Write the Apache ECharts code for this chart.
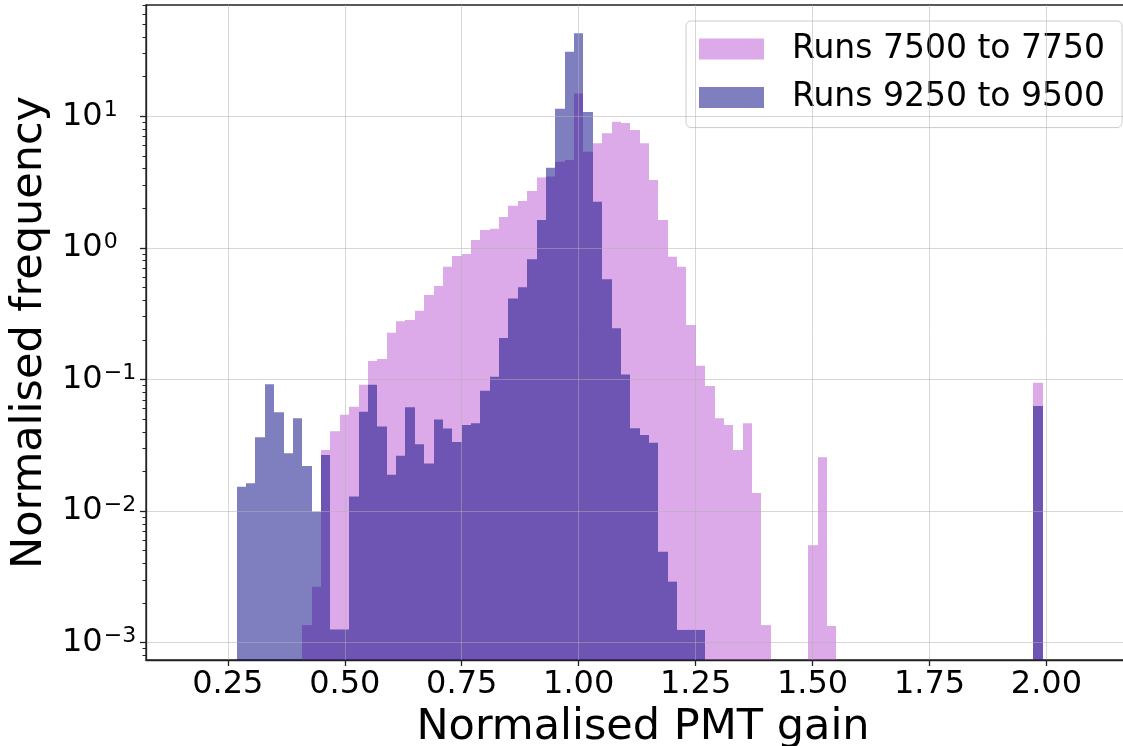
<!DOCTYPE html>
<html><head><meta charset="utf-8">
<script src="https://cdn.jsdelivr.net/npm/echarts@6/dist/echarts.min.js"></script>
<style>html,body{margin:0;padding:0;background:#fff}#chart{width:1123px;height:746px}</style>
</head><body><div id="chart"></div>
<script>
// Histogram bin definition (shared by both series)
const binStart = 0.269;
const binWidth = 0.02003;

const seriesNames = ['Runs 7500 to 7750', 'Runs 9250 to 9500'];

// Normalised frequency per bin (null = empty bin)
const runs7500 = [
  null, null, null, null, null, null, null, 0.00136, 0.00266, 0.0291,
  0.0405, 0.0540, 0.0621, 0.0912, 0.138, 0.143, 0.227, 0.277, 0.283, 0.333,
  0.438, 0.513, 0.719, 0.867, 0.899, 1.15, 1.37, 1.40, 1.72, 2.09,
  2.27, 2.70, 3.42, 3.48, 4.52, 4.66, 14.9, 5.38, 6.23, 7.43,
  9.1, 8.9, 7.87, 6.23, 3.28, 1.63, 0.857, 0.719, 0.259, 0.127,
  0.0893, 0.0507, 0.0451, 0.0291, 0.0464, 0.0137, 0.00136, null, null, null,
  null, 0.0055, 0.0257, 0.00134, null, null, null, null, null, null,
  null, null, null, null, null, null, null, null, null, null,
  null, null, null, null, null, 0.0946
];
const runs9250 = [
  0.0153, 0.0163, 0.0364, 0.0919, 0.0563, 0.0275, 0.0507, 0.0220, 0.0099, 0.0267,
  0.00126, 0.00126, 0.0129, 0.0569, 0.0912, 0.0440, 0.0189, 0.0263, 0.0614, 0.0322,
  0.0230, 0.0496, 0.0425, 0.0335, 0.0450, 0.0464, 0.0822, 0.105, 0.207, 0.412,
  0.502, 0.82, 1.63, 4.07, 11.4, 31.0, 42.7, 10.8, 2.24, 0.577,
  0.245, 0.109, 0.0426, 0.0379, 0.0331, 0.00491, 0.00291, 0.00125, 0.00125, 0.00125,
  null, null, null, null, null, null, null, null, null, null,
  null, null, null, null, null, null, null, null, null, null,
  null, null, null, null, null, null, null, null, null, null,
  null, null, null, null, null, 0.0629
];

const xTickValues = [0.25, 0.50, 0.75, 1.00, 1.25, 1.50, 1.75, 2.00];
const yTickValues = [0.001, 0.01, 0.1, 1, 10];
const yMinorTickValues = [];
[1e-4, 1e-3, 1e-2, 1e-1, 1, 10].forEach(d => { for (let m = 2; m <= 9; m++) yMinorTickValues.push(+(d * m).toPrecision(3)); });

const xMin = 0.075, xMax = 2.2;
const yMin = 7.385e-4, yMax = 70.1;

const FONT = 'DejaVu Sans';
const colors = ['rgba(186,85,211,0.5)', 'rgba(0,0,128,0.5)'];
const gridLineColor = 'rgba(176,176,176,0.5)';

function histSeries(name, values, color) {
  const data = [];
  values.forEach((v, i) => {
    if (v != null) data.push([binStart + i * binWidth, binStart + (i + 1) * binWidth, v]);
  });
  return {
    type: 'custom',
    name: name,
    data: data,
    encode: { x: [0, 1], y: 2 },
    itemStyle: { color: color },
    clip: true,
    renderItem: function (params, api) {
      const x0 = api.value(0), x1 = api.value(1), v = api.value(2);
      const pTop = api.coord([x0, v]);
      const pEnd = api.coord([x1, yMin]);
      const left = Math.round(pTop[0]);
      const right = Math.round(pEnd[0]);
      return {
        type: 'rect',
        shape: { x: left, y: pTop[1], width: right - left, height: pEnd[1] - pTop[1] },
        style: { fill: color }
      };
    }
  };
}

function supLabel(v) {
  const e = Math.round(Math.log10(v));
  return '{b|10}{s|' + (e < 0 ? '\u2212' + (-e) : String(e)) + '}';
}

const chart = echarts.init(document.getElementById('chart'), null, { renderer: 'canvas' });
chart.setOption({
  animation: false,
  backgroundColor: '#ffffff',
  grid: { left: 146, right: -17, top: 5, bottom: 86, outerBoundsMode: 'none', containLabel: false,
          show: true, borderColor: '#222', borderWidth: 1.3, backgroundColor: 'transparent' },
  legend: {
    orient: 'vertical',
    left: 686, top: 21,
    padding: [8, 17, 10, 13],
    itemWidth: 65, itemHeight: 21, itemGap: 8.6,
    icon: 'rect',
    backgroundColor: 'rgba(255,255,255,0.8)',
    borderColor: '#cccccc', borderWidth: 1, borderRadius: 5,
    textStyle: { fontSize: 33, fontFamily: FONT, color: '#000', lineHeight: 40, padding: [0, 0, 0, 23] },
    data: [
      { name: seriesNames[0], itemStyle: { color: colors[0] } },
      { name: seriesNames[1], itemStyle: { color: colors[1] } }
    ]
  },
  xAxis: {
    type: 'value', min: xMin, max: xMax,
    z: 5,
    axisLine: { show: true, onZero: false, lineStyle: { color: '#222', width: 1.3 } },
    axisTick: { show: true, customValues: xTickValues, length: 6, lineStyle: { color: '#222', width: 1.3 } },
    axisLabel: { customValues: xTickValues, formatter: v => v.toFixed(2), fontSize: 32, fontFamily: FONT, color: '#000', margin: 9 },
    splitLine: { show: true, lineStyle: { color: gridLineColor, width: 1 } },
    name: 'Normalised PMT gain', nameLocation: 'middle', nameGap: 37,
    nameTextStyle: { fontSize: 43, fontFamily: FONT, color: '#000' }
  },
  yAxis: [{
    type: 'log', logBase: 10, min: yMin, max: yMax,
    z: 5,
    axisLine: { show: true, lineStyle: { color: '#222', width: 1.3 } },
    axisTick: { show: true, customValues: yTickValues, length: 6, lineStyle: { color: '#222', width: 1.3 } },
    axisLabel: {
      customValues: yTickValues, formatter: supLabel, align: 'left', margin: 84,
      rich: {
        b: { fontSize: 32, fontFamily: FONT, color: '#000', lineHeight: 34 },
        s: { fontSize: 22, fontFamily: FONT, color: '#000', verticalAlign: 'top', lineHeight: 34, padding: [0, 0, 12, 1] }
      }
    },
    splitLine: { show: true, lineStyle: { color: gridLineColor, width: 1 } },
    name: 'Normalised frequency', nameLocation: 'middle', nameGap: 88,
    nameTextStyle: { fontSize: 43, fontFamily: FONT, color: '#000' }
  }, {
    type: 'log', logBase: 10, min: yMin, max: yMax, position: 'left',
    z: 5,
    axisLine: { show: false },
    axisTick: { show: true, customValues: yMinorTickValues, length: 3.5, lineStyle: { color: '#222', width: 1 } },
    axisLabel: { show: false },
    splitLine: { show: false }
  }],
  series: [
    histSeries(seriesNames[0], runs7500, colors[0]),
    histSeries(seriesNames[1], runs9250, colors[1])
  ]
});
</script>
</body></html>
